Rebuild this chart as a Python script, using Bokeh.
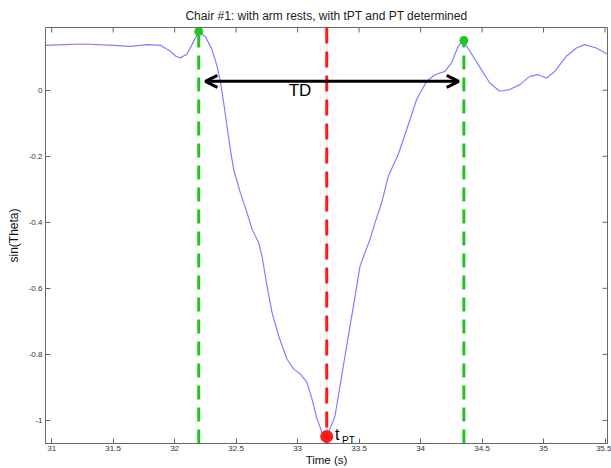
from bokeh.plotting import figure
from bokeh.models import Range1d, FixedTicker, Arrow, OpenHead
from bokeh.embed import file_html
from bokeh.resources import INLINE
from bokeh.core.properties import value

# ---- data ----
time_s = [30.951, 31.100, 31.262, 31.506, 31.641, 31.777, 31.885, 31.966, 32.010, 32.047,
          32.101, 32.155, 32.196, 32.250, 32.304, 32.345, 32.372, 32.399, 32.426, 32.453,
          32.480, 32.534, 32.588, 32.629, 32.683, 32.710, 32.751, 32.791, 32.845, 32.913,
          32.967, 33.021, 33.075, 33.116, 33.157, 33.197, 33.220, 33.240, 33.265, 33.305,
          33.346, 33.386, 33.427, 33.468, 33.508, 33.549, 33.589, 33.630, 33.684, 33.738,
          33.819, 33.887, 33.968, 34.050, 34.117, 34.198, 34.252, 34.306, 34.347, 34.401,
          34.482, 34.563, 34.644, 34.725, 34.807, 34.888, 34.955, 35.024, 35.091, 35.186,
          35.267, 35.334, 35.429, 35.523]
sin_theta = [0.136, 0.138, 0.140, 0.136, 0.133, 0.138, 0.136, 0.118, 0.103, 0.098,
             0.110, 0.148, 0.178, 0.163, 0.123, 0.073, 0.027, -0.038, -0.109, -0.179,
             -0.240, -0.310, -0.370, -0.421, -0.461, -0.502, -0.592, -0.672, -0.743, -0.814,
             -0.844, -0.859, -0.884, -0.934, -0.994, -1.035, -1.047, -1.049, -1.025, -0.985,
             -0.894, -0.804, -0.713, -0.622, -0.532, -0.491, -0.451, -0.401, -0.340, -0.260,
             -0.194, -0.119, -0.028, 0.027, 0.047, 0.057, 0.083, 0.133, 0.151, 0.118,
             0.070, 0.022, -0.003, 0.002, 0.017, 0.042, 0.047, 0.037, 0.057, 0.103,
             0.128, 0.138, 0.128, 0.108]

x_ticks = [31, 31.5, 32, 32.5, 33, 33.5, 34, 34.5, 35, 35.5]
x_tick_labels = ["31", "31.5", "32", "32.5", "33", "33.5", "34", "34.5", "35", "35.5"]
y_ticks = [0, -0.2, -0.4, -0.6, -0.8, -1]
y_tick_labels = ["0", "-0.2", "-0.4", "-0.6", "-0.8", "-1"]

peak_t = [32.196, 34.352]
peak_v = [0.178, 0.151]
tpt_t = [33.237]
tpt_v = [-1.049]
td_start = 32.25
td_end = 34.31
td_y = 0.027
td_label_x = [33.02]
td_label_y = [-0.002]

x_lo, x_hi = 30.95, 35.52
y_lo, y_hi = -1.07, 0.19

title_text = "Chair #1: with arm rests, with tPT and PT determined"
FONT = "Liberation Sans"

p = figure(width=611, height=468, output_backend="svg", toolbar_location=None,
           x_range=Range1d(x_lo, x_hi), y_range=Range1d(y_lo, y_hi),
           title=title_text, min_border_left=45, min_border_right=4,
           min_border_top=27, min_border_bottom=20)

p.title.align = "center"
p.title.text_font = FONT
p.title.text_font_size = "12px"
p.title.text_font_style = "normal"
p.title.text_color = "#222222"
p.title.standoff = 10

p.xgrid.visible = False
p.ygrid.visible = False
p.outline_line_color = "#666666"
p.background_fill_color = "white"
p.border_fill_color = "white"

for ax in (p.xaxis[0], p.yaxis[0]):
    ax.major_tick_in = 5
    ax.major_tick_out = 0
    ax.minor_tick_in = 0
    ax.minor_tick_out = 0
    ax.axis_line_color = "#666666"
    ax.major_tick_line_color = "#666666"
    ax.major_label_text_font = FONT
    ax.major_label_text_font_size = "8px"
    ax.major_label_text_color = "#333333"
    ax.axis_label_text_font = FONT
    ax.axis_label_text_font_style = "normal"
    ax.axis_label_text_color = "#111111"

p.xaxis[0].ticker = FixedTicker(ticks=x_ticks)
p.xaxis[0].major_label_overrides = dict(zip(x_ticks, x_tick_labels))
p.xaxis[0].axis_label = "Time (s)"
p.xaxis[0].axis_label_text_font_size = "11.5px"
p.xaxis[0].major_label_standoff = 2
p.xaxis[0].axis_label_standoff = 0

p.yaxis[0].ticker = FixedTicker(ticks=y_ticks)
p.yaxis[0].major_label_overrides = dict(zip(y_ticks, y_tick_labels))
p.yaxis[0].axis_label = "sin(Theta)"
p.yaxis[0].axis_label_text_font_size = "12px"
p.yaxis[0].major_label_standoff = 3
p.yaxis[0].axis_label_standoff = 5

# box ticks on top and right (MATLAB style), 5 px long inside the frame
frame_w_px, frame_h_px = 562, 416
tick_dx = (x_hi - x_lo) * 5 / frame_w_px
tick_dy = (y_hi - y_lo) * 5 / frame_h_px
p.segment(x0=x_ticks, y0=[y_hi] * len(x_ticks), x1=x_ticks, y1=[y_hi - tick_dy] * len(x_ticks),
          line_color="#666666", line_width=1)
p.segment(x0=[x_hi] * len(y_ticks), y0=y_ticks, x1=[x_hi - tick_dx] * len(y_ticks), y1=y_ticks,
          line_color="#666666", line_width=1)

# signal
p.line(time_s, sin_theta, line_color="#8080ff", line_width=1.2)

# green dashed lines at the peaks
p.segment(x0=peak_t, y0=[y_lo] * len(peak_t), x1=peak_t, y1=peak_v,
          line_color="#22c422", line_width=3, line_dash="14 8")
p.scatter(peak_t, peak_v, size=8, fill_color="#22c422", line_color="#22c422")

# red dashed line at tPT
p.segment(x0=tpt_t, y0=[y_hi] * len(tpt_t), x1=tpt_t, y1=[y_lo] * len(tpt_t),
          line_color="#ff1a1a", line_width=3, line_dash="16 8")
p.scatter(tpt_t, tpt_v, size=12, fill_color="#ff1a1a", line_color="#ff1a1a")

# TD arrow
p.add_layout(Arrow(x_start=td_start, y_start=td_y, x_end=td_end, y_end=td_y,
                   line_color="black", line_width=3,
                   start=OpenHead(size=12, line_width=3, line_color="black"),
                   end=OpenHead(size=12, line_width=3, line_color="black")))
p.text(x=td_label_x, y=td_label_y, text=["TD"], text_align="center", text_baseline="middle",
       text_font=value(FONT), text_font_size="17px", text_color="black")

# t_PT label
p.text(x=[tpt_t[0] + 0.068], y=[tpt_v[0] + 0.006], text=["t"], text_align="left",
       text_baseline="alphabetic", text_font=value(FONT), text_font_size="16px",
       text_color="black")
p.text(x=[tpt_t[0] + 0.125], y=[tpt_v[0] - 0.012], text=["PT"], text_align="left",
       text_baseline="alphabetic", text_font=value(FONT), text_font_size="10px",
       text_color="black")

open("out.html", "w").write(file_html(p, INLINE))
